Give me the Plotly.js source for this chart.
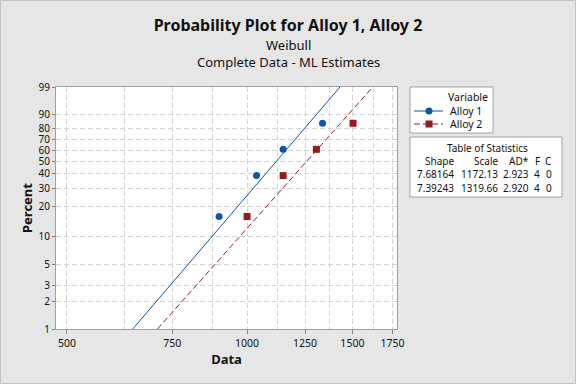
<!DOCTYPE html>
<html>
<head>
<meta charset="utf-8">
<script src="https://cdn.plot.ly/plotly-3.0.1.min.js"></script>
<style>html,body{margin:0;padding:0;background:#e6e6e6;}#chart{width:576px;height:384px;}</style>
</head>
<body>
<div id="chart"></div>
<script>
// ---- data ----
const seriesNames = ["Alloy 1", "Alloy 2"];
const alloy1 = [898, 1037, 1149, 1337];
const alloy2 = [1000, 1149, 1306, 1504];
const shapeParams = [7.68164, 7.39243];
const scaleParams = [1172.13, 1319.66];
const adStats = ["2.923", "2.920"];
const fCounts = [4, 4];
const cCounts = [0, 0];
const shapeText = ["7.68164", "7.39243"];
const scaleText = ["1172.13", "1319.66"];
const pctTicks = [1, 2, 3, 5, 10, 20, 30, 40, 50, 60, 70, 80, 90, 99];
const xMajorTicks = [500, 750, 1000, 1250, 1500, 1750];
const xMinorTicks = [625, 875, 1125, 1375, 1625];
const colors = ["#0b57a4", "#951b1e"];

// ---- helpers ----
const wb = p => Math.log(-Math.log(1 - p / 100));       // Weibull probability scale
function medianRanks(n) { const r = []; for (let i = 1; i <= n; i++) r.push(100 * (i - 0.3) / (n + 0.4)); return r; }
function fitLine(shape, scale) {
  const ps = [1, 99];
  return { x: ps.map(p => scale * Math.pow(-Math.log(1 - p / 100), 1 / shape)), y: ps.map(wb) };
}

const W = 576, H = 384;
const L = 56, R = 397, T = 87, B = 329;
const px = v => (v - L) / (R - L);
const py = v => (B - v) / (B - T);

const dataSets = [alloy1, alloy2];
const symbols = ["circle", "square"];
const dashes = ["solid", "6px,3px"];
const traces = [];
dataSets.forEach((d, i) => {
  const f = fitLine(shapeParams[i], scaleParams[i]);
  traces.push({ x: f.x, y: f.y, mode: "lines", line: { color: colors[i], width: 1, dash: dashes[i] }, showlegend: false, hoverinfo: "skip" });
  traces.push({ x: d, y: medianRanks(d.length).map(wb), mode: "markers", name: seriesNames[i], marker: { color: colors[i], symbol: symbols[i], size: 7 }, showlegend: false });
});

const font = "Noto Sans, Open Sans, sans-serif";
const txt = "#111";
const ann = [];
const shapes = [];
// subtitles
ann.push({ text: "Weibull", xref: "paper", yref: "paper", x: px(288), y: py(45), showarrow: false, font: { size: 13, color: txt, family: font }, xanchor: "center", yanchor: "middle" });
ann.push({ text: "Complete Data - ML Estimates", xref: "paper", yref: "paper", x: px(288), y: py(62), showarrow: false, font: { size: 13, color: txt, family: font }, xanchor: "center", yanchor: "middle" });

// legend box (drawn manually to match the compact layout)
shapes.push({ type: "rect", xref: "paper", yref: "paper", x0: px(410), x1: px(493), y0: py(87), y1: py(133), line: { color: "#a0a0a0", width: 1 }, fillcolor: "#ffffff", layer: "below" });
ann.push({ text: "Variable", xref: "paper", yref: "paper", x: px(468), y: py(97), showarrow: false, font: { size: 10.5, color: txt, family: font }, xanchor: "center", yanchor: "middle" });
const legY = [111, 124];
seriesNames.forEach((nm, i) => {
  shapes.push({ type: "line", xref: "paper", yref: "paper", x0: px(414), x1: px(443), y0: py(legY[i]), y1: py(legY[i]), line: { color: colors[i], width: 1, dash: i === 0 ? "solid" : "6px,3px" } });
  shapes.push({ type: symbols[i] === "circle" ? "circle" : "rect", xref: "paper", yref: "paper", xsizemode: "pixel", ysizemode: "pixel", xanchor: px(429), yanchor: py(legY[i]), x0: -3.5, x1: 3.5, y0: -3.5, y1: 3.5, fillcolor: colors[i], line: { width: 0 } });
  ann.push({ text: nm, xref: "paper", yref: "paper", x: px(448), y: py(legY[i]), showarrow: false, font: { size: 10.5, color: txt, family: font }, xanchor: "left", yanchor: "middle" });
});

// table of statistics
shapes.push({ type: "rect", xref: "paper", yref: "paper", x0: px(410), x1: px(562), y0: py(137), y1: py(197), line: { color: "#a0a0a0", width: 1 }, fillcolor: "#ffffff", layer: "below" });
ann.push({ text: "Table of Statistics", xref: "paper", yref: "paper", x: px(487), y: py(148), showarrow: false, font: { size: 10, color: txt, family: font }, xanchor: "center", yanchor: "middle" });
const colRight = [456, 500, 531, 542, 554];
const headers = ["Shape", "Scale", "AD*", "F", "C"];
const rowsY = [174, 188];
headers.forEach((h, j) => ann.push({ text: h, xref: "paper", yref: "paper", x: px(colRight[j]), y: py(161), showarrow: false, font: { size: 10, color: txt, family: font }, xanchor: "right", yanchor: "middle" }));
for (let i = 0; i < 2; i++) {
  const row = [shapeText[i], scaleText[i], adStats[i], String(fCounts[i]), String(cCounts[i])];
  row.forEach((v, j) => ann.push({ text: v, xref: "paper", yref: "paper", x: px(colRight[j]), y: py(rowsY[i]), showarrow: false, font: { size: 10, color: txt, family: font }, xanchor: "right", yanchor: "middle" }));
}

// outer frame
shapes.push({ type: "rect", xref: "paper", yref: "paper", x0: px(0.5), x1: px(575.5), y0: py(0.5), y1: py(383.5), line: { color: "#c4c4c4", width: 1 }, fillcolor: "rgba(0,0,0,0)", layer: "below" });

const layout = {
  width: W, height: H,
  paper_bgcolor: "#e6e6e6", plot_bgcolor: "#ffffff",
  margin: { l: L, r: W - R, t: T, b: H - B, pad: 0 },
  font: { family: font, color: txt, size: 11 },
  title: { text: "<b>Probability Plot for Alloy 1, Alloy 2</b>", font: { size: 16, family: font, color: txt }, x: 0.5, xref: "container", xanchor: "center", y: 1 - 25 / H, yref: "container", yanchor: "middle" },
  xaxis: {
    type: "log", range: [Math.log10(479.3), Math.log10(1781)],
    tickvals: xMajorTicks, ticktext: xMajorTicks.map(String),
    ticks: "outside", ticklen: 4, tickcolor: "#808080", tickfont: { size: 10.5, family: font, color: txt },
    showgrid: true, gridcolor: "#d4d4d4", griddash: "5px,3px", gridwidth: 1,
    minor: { tickvals: xMinorTicks, showgrid: true, gridcolor: "#d4d4d4", griddash: "5px,3px", ticks: "" },
    showline: true, linecolor: "#a0a0a0", linewidth: 1, mirror: true, zeroline: false,
    title: { text: "<b>Data</b>", font: { size: 13, family: font, color: txt }, standoff: 5 }
  },
  yaxis: {
    range: [wb(1), wb(99)],
    tickvals: pctTicks.map(wb), ticktext: pctTicks.map(String),
    ticks: "outside", ticklen: 3, tickcolor: "#808080", tickfont: { size: 10, family: font, color: txt },
    showgrid: true, gridcolor: "#d4d4d4", griddash: "5px,3px", gridwidth: 1,
    showline: true, linecolor: "#a0a0a0", linewidth: 1, mirror: true, zeroline: false,
    title: { text: "<b>Percent</b>", font: { size: 13, family: font, color: txt }, standoff: 2 }
  },
  annotations: ann, shapes: shapes, showlegend: false
};

Plotly.newPlot("chart", traces, layout, { displayModeBar: false, staticPlot: true });
</script>
</body>
</html>
